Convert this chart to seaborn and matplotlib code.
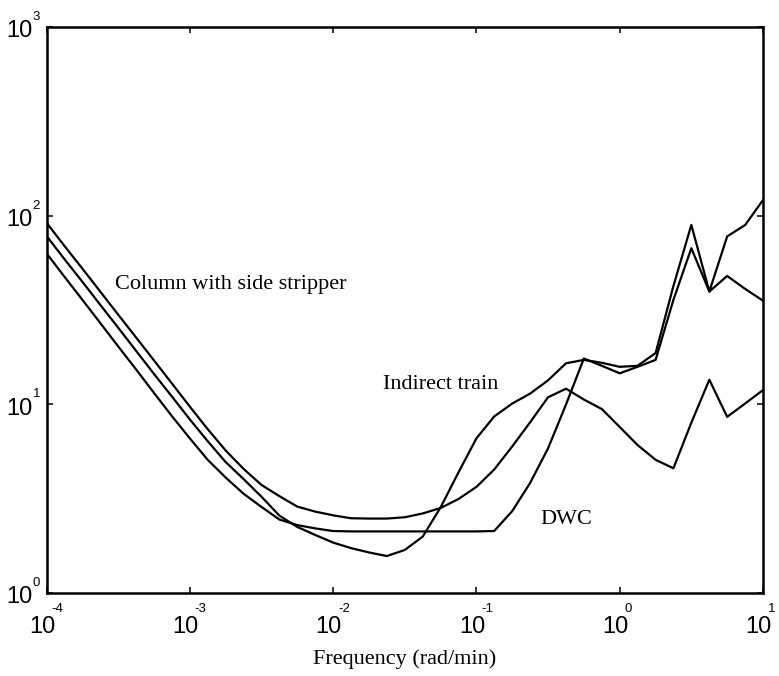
import matplotlib
matplotlib.use("Agg")
import matplotlib.pyplot as plt
from matplotlib.ticker import FixedLocator, NullLocator
import pandas as pd
import seaborn as sns

# Frequency grid (rad/min), eight points per decade
freq = [
    1.00e-4, 1.33e-4, 1.78e-4, 2.37e-4, 3.16e-4, 4.22e-4, 5.62e-4, 7.50e-4,
    1.00e-3, 1.33e-3, 1.78e-3, 2.37e-3, 3.16e-3, 4.22e-3, 5.62e-3, 7.50e-3,
    1.00e-2, 1.33e-2, 1.78e-2, 2.37e-2, 3.16e-2, 4.22e-2, 5.62e-2, 7.50e-2,
    1.00e-1, 1.33e-1, 1.78e-1, 2.37e-1, 3.16e-1, 4.22e-1, 5.62e-1, 7.50e-1,
    1.00e0, 1.33e0, 1.78e0, 2.37e0, 3.16e0, 4.22e0, 5.62e0, 7.50e0,
    1.00e1,
]

# Magnitude of each configuration over the frequency grid
side_stripper = [
    91.8, 69.3, 52.4, 39.6, 29.9, 22.6, 17.1, 12.9,
    9.73, 7.40, 5.69, 4.55, 3.74, 3.26, 2.87, 2.70,
    2.58, 2.49, 2.48, 2.48, 2.52, 2.64, 2.82, 3.15,
    3.65, 4.51, 5.99, 8.03, 10.9, 12.1, 10.6, 9.44,
    7.58, 6.09, 5.08, 4.58, 7.99, 13.5, 8.58, 10.1,
    11.9,
]
indirect_train = [
    78.1, 59.0, 44.6, 33.7, 25.5, 19.2, 14.5, 11.0,
    8.32, 6.39, 4.94, 4.02, 3.24, 2.57, 2.24, 2.03,
    1.85, 1.73, 1.64, 1.57, 1.69, 1.99, 2.84, 4.36,
    6.60, 8.62, 10.1, 11.4, 13.4, 16.5, 17.2, 16.6,
    15.8, 16.0, 18.7, 42.4, 89.3, 39.6, 77.6, 89.2,
    121.0,
]
dwc = [
    63.2, 47.6, 35.8, 27.0, 20.3, 15.3, 11.5, 8.66,
    6.60, 5.09, 4.09, 3.36, 2.86, 2.45, 2.29, 2.20,
    2.13, 2.12, 2.12, 2.12, 2.12, 2.12, 2.12, 2.12,
    2.12, 2.13, 2.72, 3.83, 5.84, 9.98, 17.5, 16.0,
    14.6, 15.8, 17.2, 35.8, 67.2, 39.6, 47.9, 40.9,
    35.4,
]

x_tick_exponents = [-4, -3, -2, -1, 0, 1]
y_tick_exponents = [0, 1, 2, 3]

curve_labels = ["Column with side stripper", "Indirect train", "DWC"]
label_positions = [(3.0e-4, 40.9), (2.24e-2, 12.07), (2.78e-1, 2.32)]
xlabel_text = "Frequency (rad/min)"

series = {
    "side_stripper": side_stripper,
    "indirect_train": indirect_train,
    "dwc": dwc,
}
df = pd.concat(
    [pd.DataFrame({"freq": freq, "mag": vals, "config": name})
     for name, vals in series.items()],
    ignore_index=True,
)

sns.set_style("ticks")
plt.rcParams["font.family"] = ["Liberation Serif", "DejaVu Serif"]

DPI = 100
fig = plt.figure(figsize=(7.79, 6.76), dpi=DPI)
ax = fig.add_axes([0.0597, 0.1228, 0.9198, 0.8373])

sns.lineplot(
    data=df, x="freq", y="mag", hue="config",
    palette={k: "black" for k in series}, estimator=None,
    sort=False, legend=False, linewidth=1.6, ax=ax,
)

ax.set_xscale("log")
ax.set_yscale("log")
ax.set_xlim(1e-4, 1e1)
ax.set_ylim(1e0, 1e3)
ax.xaxis.set_major_locator(FixedLocator([10.0 ** e for e in x_tick_exponents]))
ax.yaxis.set_major_locator(FixedLocator([10.0 ** e for e in y_tick_exponents]))
ax.xaxis.set_minor_locator(NullLocator())
ax.yaxis.set_minor_locator(NullLocator())
ax.tick_params(which="major", direction="in", length=4.3, width=1.1,
               color="black", top=True, right=True,
               labelbottom=False, labelleft=False)
for spine in ax.spines.values():
    spine.set_visible(True)
    spine.set_linewidth(1.8)
    spine.set_color("black")
ax.set_xlabel("")
ax.set_ylabel("")

px = 72.0 / DPI  # points per pixel
base_font = dict(family="Liberation Sans", color="black")

# Decade tick labels: "10" with a small raised exponent
for e in x_tick_exponents:
    ax.annotate("10", xy=(10.0 ** e, 0), xycoords=("data", "axes fraction"),
                xytext=(8.6 * px, -40.3 * px), textcoords="offset points",
                ha="right", va="baseline", fontsize=17, **base_font,
                annotation_clip=False)
    ax.annotate(f"{e}", xy=(10.0 ** e, 0), xycoords=("data", "axes fraction"),
                xytext=(5.0 * px, -18.7 * px), textcoords="offset points",
                ha="left", va="baseline", fontsize=9.5, **base_font,
                annotation_clip=False)

for e in y_tick_exponents:
    ax.annotate("10", xy=(0, 10.0 ** e), xycoords=("axes fraction", "data"),
                xytext=(-14.5 * px, -10.3 * px), textcoords="offset points",
                ha="right", va="baseline", fontsize=17, **base_font,
                annotation_clip=False)
    ax.annotate(f"{e}", xy=(0, 10.0 ** e), xycoords=("axes fraction", "data"),
                xytext=(-14.0 * px, 7.0 * px), textcoords="offset points",
                ha="left", va="baseline", fontsize=9.5, **base_font,
                annotation_clip=False)

for text, (tx, ty) in zip(curve_labels, label_positions):
    ax.text(tx, ty, text, ha="left", va="baseline", fontsize=16,
            family="Liberation Serif", color="black")

fig.text(405 / 779, 1 - 664 / 676, xlabel_text, ha="center", va="baseline",
         fontsize=16, family="Liberation Serif", color="black")

fig.savefig("out.png", dpi=DPI)
